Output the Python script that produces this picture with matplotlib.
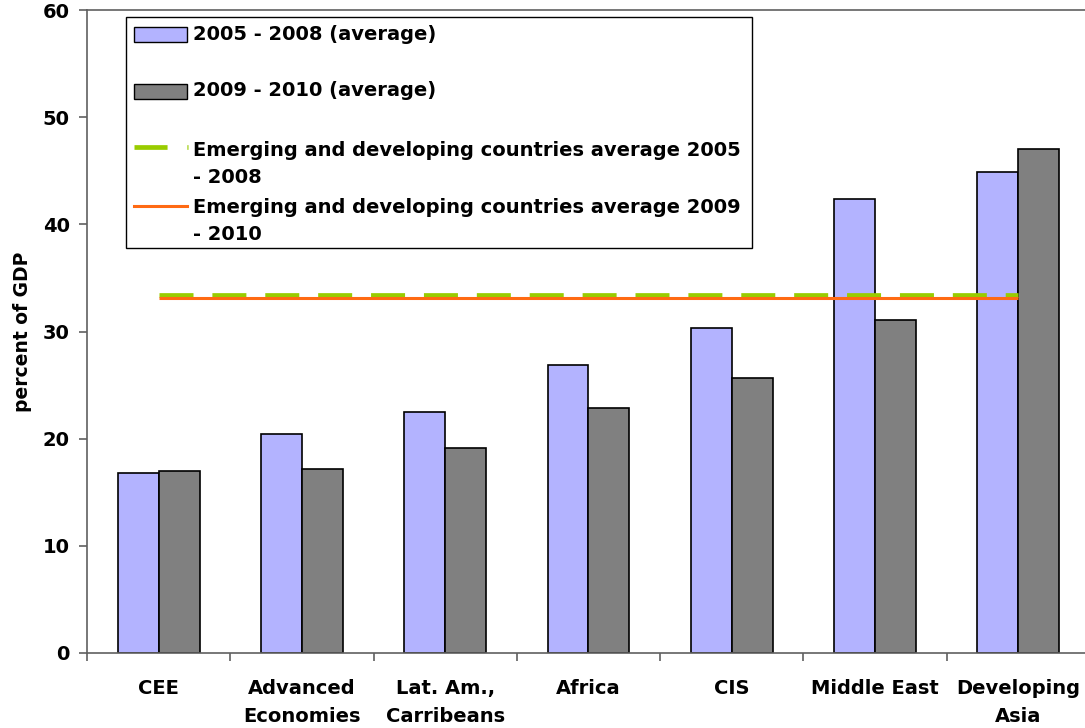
import numpy as np
import matplotlib
matplotlib.use('Agg')
import matplotlib.pyplot as plt
from matplotlib.patches import Rectangle
from matplotlib.lines import Line2D

##################################
### data (percent of GDP)

regions = ['CEE', 'Advanced\nEconomies', 'Lat. Am.,\nCarribeans', 'Africa',
           'CIS', 'Middle East', 'Developing\nAsia']
avg_2005_2008 = [16.8, 20.4, 22.5, 26.9, 30.3, 42.4, 44.9]
avg_2009_2010 = [17.0, 17.2, 19.1, 22.9, 25.7, 31.1, 47.0]

# emerging and developing countries averages
em_avg_2005_2008 = 33.45
em_avg_2009_2010 = 33.08

labels = ['2005 - 2008 (average)',
          '2009 - 2010 (average)',
          'Emerging and developing countries average 2005\n- 2008',
          'Emerging and developing countries average 2009\n- 2010']

blue = '#b3b3ff'
grey = '#808080'
green = '#99cc00'
orange = '#ff6a13'

W, H = 1085, 728
AX_L, AX_R, AX_T, AX_B = 87, 1090, 10, 653


def px(x, y):
	# image pixel -> axes fraction (used for the hand drawn legend)
	return ((x - AX_L) / (AX_R - AX_L), (AX_B - y) / (AX_B - AX_T))


def draw_legend(ax):
	tr = ax.transAxes
	x0, y0 = px(126, 248)
	x1, y1 = px(752, 17)
	ax.add_patch(Rectangle((x0, y0), x1 - x0, y1 - y0, transform=tr,
		facecolor='white', edgecolor='black', lw=1.0, zorder=5, clip_on=False))

	# bar handles
	for (top, bot, col, ty, lab) in [(27, 42, blue, 34, labels[0]),
	                                 (84, 99, grey, 91, labels[1])]:
		a = px(134, bot)
		b = px(187, top)
		ax.add_patch(Rectangle(a, b[0] - a[0], b[1] - a[1], transform=tr,
			facecolor=col, edgecolor='black', lw=1.0, zorder=6, clip_on=False))
		tx, tyy = px(193, ty)
		ax.text(tx, tyy, lab, transform=tr, fontsize=14, fontweight='bold',
			va='center', ha='left', zorder=7)

	# line handles
	p0 = px(134, 147)
	p1 = px(188, 147)
	ax.add_line(Line2D([p0[0], p1[0]], [p0[1], p1[1]], transform=tr, color=green,
		lw=3.4, dashes=(7, 4.2), solid_capstyle='butt', dash_capstyle='butt',
		zorder=6, clip_on=False))
	p0 = px(134, 206)
	p1 = px(187, 206)
	ax.add_line(Line2D([p0[0], p1[0]], [p0[1], p1[1]], transform=tr, color=orange,
		lw=2.2, zorder=6, clip_on=False))
	for ty, lab in [(141, labels[2]), (198, labels[3])]:
		tx, tyy = px(193, ty)
		ax.text(tx, tyy, lab, transform=tr, fontsize=14, fontweight='bold',
			va='top', ha='left', linespacing=1.55, zorder=7)


def gdp_chart():
	fig = plt.figure(figsize=(W / 100, H / 100), dpi=100)
	ax = fig.add_axes([AX_L / W, (H - AX_B) / H, (AX_R - AX_L) / W, (AX_B - AX_T) / H])

	ind = np.arange(len(regions))
	width = 0.286

	ax.bar(ind - width / 2, avg_2005_2008, width, color=blue, edgecolor='black',
		lw=1.2, zorder=2)
	ax.bar(ind + width / 2, avg_2009_2010, width, color=grey, edgecolor='black',
		lw=1.2, zorder=2)

	ax.plot(ind, [em_avg_2005_2008] * len(ind), color=green, lw=3.4,
		dashes=(7.2, 4.0), dash_capstyle='butt', zorder=3)
	ax.plot(ind, [em_avg_2009_2010] * len(ind), color=orange, lw=2.2,
		solid_capstyle='butt', zorder=3)

	ax.set_xlim(-0.5, len(regions) - 0.5)
	ax.set_ylim(0, 60)
	ax.set_yticks(np.arange(0, 61, 10))

	# category boundaries get the tick marks, centres get the labels
	ax.set_xticks(np.arange(-0.5, len(regions), 1.0))
	ax.set_xticklabels([])
	ax.set_xticks(ind, minor=True)
	ax.set_xticklabels(regions, minor=True, fontsize=14, fontweight='bold')
	for t in ax.get_xticklabels(minor=True):
		t.set_linespacing(1.6)
	ax.tick_params(axis='x', which='minor', length=0, pad=18.5)
	ax.tick_params(axis='x', which='major', length=5.5, color='#606060', width=1.2)
	ax.tick_params(axis='y', length=5.5, color='#606060', width=1.2, pad=7,
		labelsize=14)
	for t in ax.get_yticklabels():
		t.set_fontweight('bold')

	ax.set_ylabel('percent of GDP', fontsize=13.5, fontweight='bold', labelpad=8)

	for s in ['left', 'bottom', 'top']:
		ax.spines[s].set_color('#606060')
		ax.spines[s].set_linewidth(1.2)
	ax.spines['right'].set_visible(False)

	draw_legend(ax)

	plt.savefig('out.png', dpi=100)


if __name__ == '__main__':
	gdp_chart()
